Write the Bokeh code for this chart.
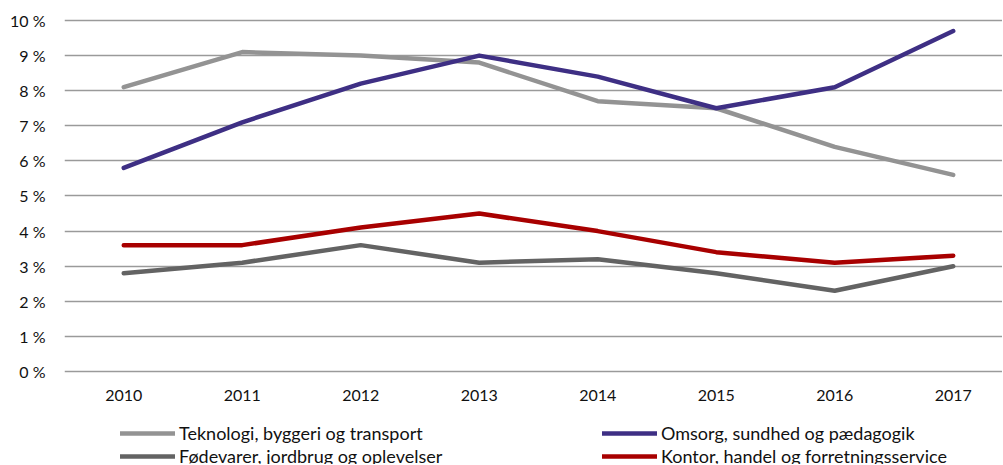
from bokeh.plotting import figure
from bokeh.models import Range1d, FixedTicker, PrintfTickFormatter, Legend, LegendItem
from bokeh.core.properties import value
from bokeh.embed import file_html
from bokeh.resources import INLINE

years = [2010, 2011, 2012, 2013, 2014, 2015, 2016, 2017]
year_labels = [str(y) for y in years]
teknologi = [8.1, 9.1, 9.0, 8.8, 7.7, 7.5, 6.4, 5.6]
omsorg = [5.8, 7.1, 8.2, 9.0, 8.4, 7.5, 8.1, 9.7]
fodevarer = [2.8, 3.1, 3.6, 3.1, 3.2, 2.8, 2.3, 3.0]
kontor = [3.6, 3.6, 4.1, 4.5, 4.0, 3.4, 3.1, 3.3]
y_ticks = [0, 1, 2, 3, 4, 5, 6, 7, 8, 9, 10]

FONT = "Lato"

p = figure(width=1002, height=464, output_backend="svg", toolbar_location=None,
           x_range=Range1d(2009.5, 2017.416), y_range=Range1d(-2.65, 10.114),
           min_border_left=64, min_border_right=0, min_border_top=16, min_border_bottom=0)
p.outline_line_color = None
p.xgrid.grid_line_color = None
p.ygrid.grid_line_color = "#9a9a9a"
p.ygrid.grid_line_width = 1.6
p.ygrid.ticker = FixedTicker(ticks=y_ticks)

p.xaxis.visible = False
p.yaxis.ticker = FixedTicker(ticks=y_ticks)
p.yaxis.formatter = PrintfTickFormatter(format="%d %%")
p.yaxis.axis_line_color = None
p.yaxis.major_tick_line_color = None
p.yaxis.minor_tick_line_color = None
p.yaxis.major_label_text_font = FONT
p.yaxis.major_label_text_font_size = "16px"
p.yaxis.major_label_text_color = "#111111"
p.yaxis.major_label_standoff = 13

# x-axis year labels under the 0 % line
p.text(x=years, y=[y_ticks[0]] * len(years), text=year_labels, y_offset=24,
       text_align="center", text_baseline="middle", text_font=value(FONT),
       text_font_size="16px", text_color="#111111")

kw = dict(line_width=4.5, line_cap="round", line_join="round")
r1 = p.line(years, teknologi, line_color="#939393", **kw)
r2 = p.line(years, omsorg, line_color="#3e2f84", **kw)
r3 = p.line(years, fodevarer, line_color="#636363", **kw)
r4 = p.line(years, kontor, line_color="#a80000", **kw)

def mk_legend(items, yloc):
    return Legend(items=items, location=(56, yloc), orientation="horizontal",
                  glyph_width=55, glyph_height=20, label_standoff=4, spacing=123,
                  padding=0, margin=0, border_line_color=None, background_fill_alpha=0,
                  label_text_font=FONT, label_text_font_size="18px", label_text_color="#111111",
                  label_height=20, label_width=300)

p.add_layout(mk_legend([LegendItem(label="Teknologi, byggeri og transport", renderers=[r1]),
                        LegendItem(label="Omsorg, sundhed og pædagogik", renderers=[r2])], 20), "center")
p.add_layout(mk_legend([LegendItem(label="Fødevarer, jordbrug og oplevelser", renderers=[r3]),
                        LegendItem(label="Kontor, handel og forretningsservice", renderers=[r4])], -3), "center")

open("out.html", "w").write(file_html(p, INLINE))
